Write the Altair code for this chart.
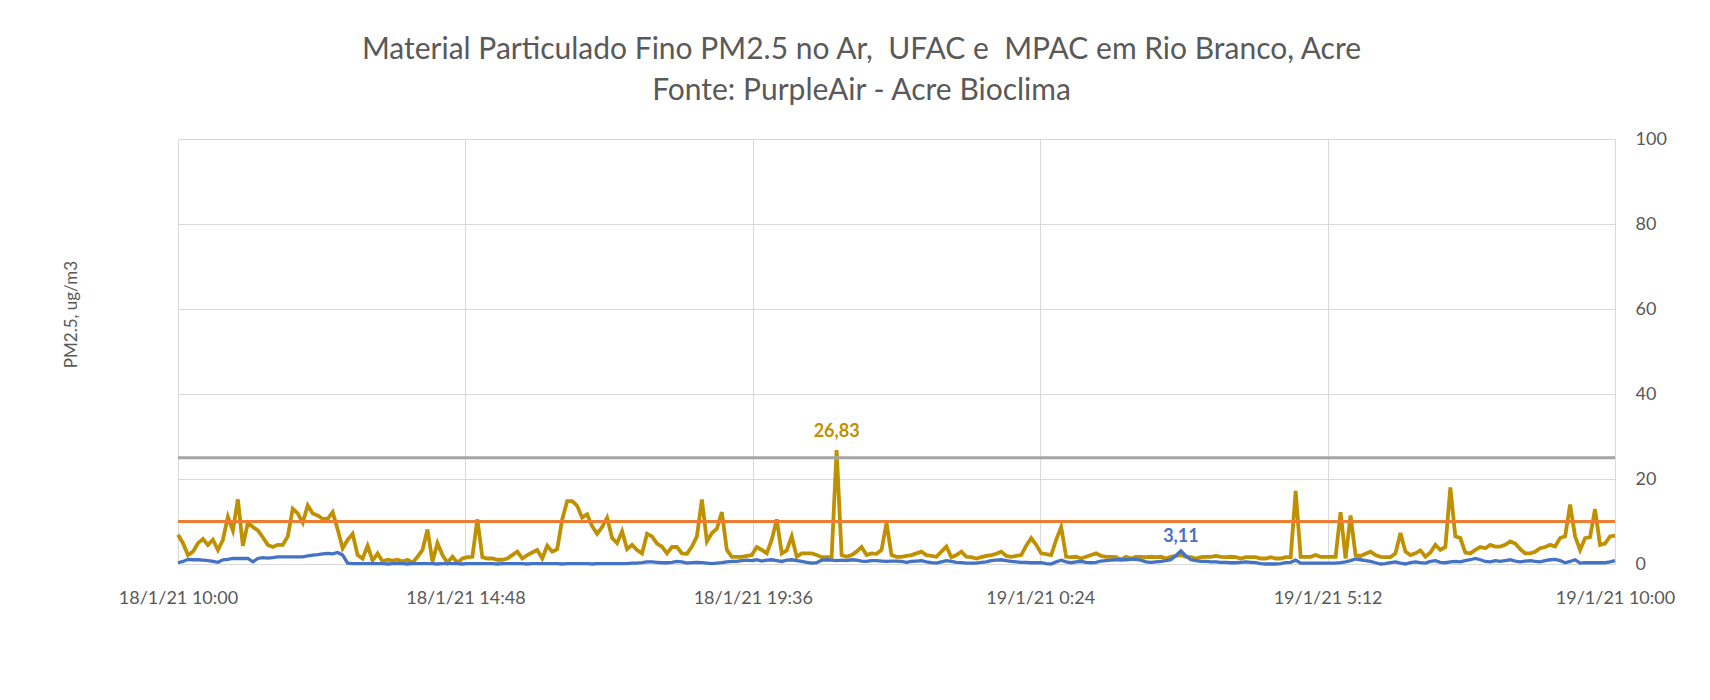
import altair as alt
import pandas as pd

# ---------------- data ----------------
titulo = ["Material Particulado Fino PM2.5 no Ar,\u00a0 UFAC e\u00a0 MPAC em Rio Branco, Acre",
          "Fonte: PurpleAir - Acre Bioclima"]
eixo_y_titulo = "PM2.5, ug/m3"
inicio = "2021-01-18 10:00"
passo = "5min"

# MPAC (gold) PM2.5, ug/m3, one value every 5 minutes
mpac = [
    6.9, 4.9, 2.1, 2.9, 4.9, 5.9, 4.5, 5.7, 3.3, 5.7,
    11.1, 7.9, 15.2, 4.3, 9.7, 8.7, 7.9, 6.3, 4.5, 4.0,
    4.5, 4.5, 6.5, 13.0, 11.9, 9.7, 13.8, 11.9, 11.4, 10.6,
    10.6, 12.2, 8.1, 3.7, 5.7, 7.1, 2.1, 1.3, 4.3, 0.8,
    2.5, 0.6, 1.0, 0.8, 1.0, 0.6, 1.0, 0.3, 1.7,
    3.3, 8.1, 0.6, 4.9, 2.1, 0.3, 1.7, 0.3, 1.3, 1.6,
    1.7, 10.5, 1.6, 1.3, 1.3, 1.0, 1.0, 1.3, 2.1, 2.9,
    1.3, 2.1, 2.7, 3.3, 1.3, 4.3, 2.9, 3.5, 10.5, 14.8,
    14.8, 13.7, 10.9, 11.7, 8.9, 7.1, 8.7, 10.9, 6.1, 4.9,
    7.7, 3.5, 4.5, 3.3, 2.5, 7.1, 6.5, 4.8,
    4.1, 2.5, 4.0, 4.0, 2.5, 2.4, 4.1, 6.5, 15.2, 5.3,
    7.3, 8.3, 12.2, 3.3, 1.7, 1.7, 1.7, 1.9, 2.1, 4.0,
    3.3, 2.5, 5.7, 10.5, 2.5, 3.2, 6.5, 1.7, 2.5, 2.5,
    2.5, 2.1, 1.6, 1.6, 1.7, 26.83, 2.1, 1.7, 2.1, 2.9,
    4.0, 2.1, 2.5, 2.4, 3.3, 9.7, 2.1, 1.7,
    1.7, 1.9, 2.1, 2.5, 2.9, 2.1, 1.9, 1.7, 2.9, 4.1,
    1.6, 2.1, 2.9, 1.7, 1.6, 1.3, 1.6, 1.9, 2.1, 2.4,
    2.9, 1.9, 1.7, 1.9, 2.1, 4.3, 6.1, 4.5, 2.5, 2.3,
    2.1, 5.7, 8.7, 1.7, 1.6, 1.7, 1.3, 1.7, 2.1, 2.5,
    1.9, 1.7, 1.7, 1.6, 1.0, 1.7, 1.3, 1.7,
    1.7, 1.6, 1.7, 1.6, 1.7, 1.3, 1.7, 1.9, 2.1, 1.7,
    1.6, 1.3, 1.6, 1.7, 1.7, 1.9, 1.7, 1.6, 1.7, 1.6,
    1.3, 1.6, 1.6, 1.6, 1.3, 1.3, 1.6, 1.3, 1.3, 1.6,
    1.6, 17.2, 1.7, 1.7, 1.7, 2.1, 1.7, 1.7, 1.7, 1.7,
    12.2, 1.3, 11.4, 2.1, 1.9, 2.4, 2.9, 2.1,
    1.7, 1.6, 1.6, 2.5, 7.3, 2.9, 2.1, 2.5, 3.2, 1.7,
    2.7, 4.5, 3.3, 4.0, 18.0, 6.5, 6.1, 2.7, 2.5, 3.3,
    4.0, 3.7, 4.5, 4.1, 4.1, 4.5, 5.3, 4.8, 3.5, 2.5,
    2.5, 2.9, 3.7, 4.0, 4.5, 4.1, 6.1, 6.5, 14.0, 6.5,
    3.3, 6.1, 6.3, 12.9, 4.5, 4.8, 6.5, 6.7,
]

# UFAC (blue) PM2.5, ug/m3
ufac = [
    0.3, 0.6, 1.1, 1.0, 1.0, 0.9, 0.8, 0.6, 0.4, 1.0,
    1.1, 1.3, 1.3, 1.3, 1.3, 0.5, 1.3, 1.5, 1.4, 1.5,
    1.7, 1.7, 1.7, 1.7, 1.7, 1.7, 1.9, 2.1, 2.2, 2.4,
    2.5, 2.4, 2.7, 2.1, 0.2, 0.1, 0.1, 0.1, 0.1, 0.1,
    0.1, 0.1, 0.0, 0.1, 0.1, 0.1, 0.0, 0.1, 0.1,
    0.1, 0.1, 0.1, 0.0, 0.1, 0.1, 0.1, 0.1, 0.0, 0.1,
    0.1, 0.1, 0.1, 0.1, 0.1, 0.0, 0.1, 0.1, 0.1, 0.1,
    0.1, 0.0, 0.1, 0.1, 0.1, 0.1, 0.1, 0.1, 0.0, 0.1,
    0.1, 0.1, 0.1, 0.1, 0.0, 0.1, 0.1, 0.1, 0.1, 0.1,
    0.1, 0.1, 0.2, 0.2, 0.3, 0.5, 0.5, 0.4,
    0.3, 0.3, 0.4, 0.6, 0.5, 0.2, 0.3, 0.4, 0.3, 0.2,
    0.1, 0.2, 0.3, 0.5, 0.6, 0.6, 0.8, 0.9, 0.8, 1.0,
    0.7, 0.9, 1.0, 0.8, 0.6, 0.9, 1.0, 0.8, 0.6, 0.4,
    0.2, 0.3, 0.9, 1.0, 0.9, 0.8, 0.9, 0.8, 1.0, 0.9,
    0.7, 0.6, 0.8, 0.8, 0.7, 0.6, 0.7, 0.7,
    0.6, 0.4, 0.6, 0.7, 0.8, 0.5, 0.3, 0.2, 0.5, 0.8,
    0.6, 0.4, 0.3, 0.2, 0.2, 0.2, 0.4, 0.5, 0.8, 0.9,
    1.0, 0.8, 0.6, 0.5, 0.4, 0.4, 0.3, 0.3, 0.3, 0.1,
    0.0, 0.5, 0.9, 0.5, 0.3, 0.5, 0.6, 0.4, 0.3, 0.4,
    0.7, 0.8, 0.9, 1.0, 1.0, 1.0, 1.1, 1.1,
    0.9, 0.5, 0.4, 0.5, 0.6, 0.8, 1.0, 2.0, 3.11, 1.9,
    1.0, 0.8, 0.6, 0.6, 0.5, 0.5, 0.4, 0.4, 0.3, 0.3,
    0.4, 0.5, 0.4, 0.3, 0.1, 0.0, 0.0, 0.0, 0.1, 0.3,
    0.4, 0.9, 0.2, 0.2, 0.2, 0.2, 0.2, 0.2, 0.2, 0.2,
    0.3, 0.5, 0.8, 1.2, 1.0, 0.8, 0.6, 0.3,
    0.0, 0.1, 0.3, 0.5, 0.2, 0.0, 0.3, 0.5, 0.3, 0.2,
    0.6, 0.8, 0.4, 0.3, 0.5, 0.6, 0.5, 0.8, 1.0, 1.3,
    1.0, 0.6, 0.5, 0.8, 0.6, 0.8, 1.0, 0.7, 0.5, 0.7,
    0.8, 0.6, 0.5, 0.8, 1.0, 1.1, 0.8, 0.3, 0.6, 1.0,
    0.2, 0.3, 0.3, 0.3, 0.3, 0.3, 0.5, 0.8,
]

limite_cinza = [25]
limite_laranja = [10]
x_ticks = ["2021-01-18 10:00", "2021-01-18 14:48", "2021-01-18 19:36",
           "2021-01-19 00:24", "2021-01-19 05:12", "2021-01-19 10:00"]
y_ticks = [0, 20, 40, 60, 80, 100]

# ---------------- tables ----------------
tempos = pd.date_range(inicio, periods=len(mpac), freq=passo)
t_str = tempos.strftime("%Y-%m-%dT%H:%M:%S")
df_mpac = pd.DataFrame({"t": t_str, "valor": mpac})
df_ufac = pd.DataFrame({"t": t_str, "valor": ufac})

def rotulo_max(df):
    i = int(df["valor"].idxmax())
    v = df["valor"].iloc[i]
    return pd.DataFrame({"t": [df["t"].iloc[i]], "valor": [v],
                         "rotulo": [f"{v:.2f}".replace(".", ",")]})

lab_mpac = rotulo_max(df_mpac)
lab_ufac = rotulo_max(df_ufac)

def dt(s):
    ts = pd.Timestamp(s)
    return alt.DateTime(year=ts.year, month=ts.month, date=ts.day,
                        hours=ts.hour, minutes=ts.minute)

CINZA_TXT = "#595959"
GRADE = "#d9d9d9"
FONTE = "Lato"

x_enc = alt.X("t:T",
              scale=alt.Scale(domain=[dt(x_ticks[0]), dt(x_ticks[-1])]),
              axis=alt.Axis(values=[dt(s) for s in x_ticks], format="%-d/%-m/%y %-H:%M",
                            title=None, grid=True, gridColor=GRADE, domain=False,
                            ticks=False, labelPadding=25, labelFontSize=18,
                            labelColor=CINZA_TXT, labelFont=FONTE,
                            labelFlush=False, labelOverlap=False))
y_enc = alt.Y("valor:Q",
              scale=alt.Scale(domain=[0, 100]),
              axis=alt.Axis(orient="right", values=y_ticks, grid=True, gridColor=GRADE,
                            domain=False, ticks=False, labelPadding=20,
                            labelFontSize=18, labelColor=CINZA_TXT, labelFont=FONTE,
                            title=eixo_y_titulo, titleAngle=270, titleX=-1544, titleY=175,
                            titleAlign="center", titleBaseline="middle",
                            titleFontSize=17, titleFontWeight="normal",
                            titleColor=CINZA_TXT, titleFont=FONTE))

linha_mpac = alt.Chart(df_mpac).mark_line(color="#bf9000", strokeWidth=3.8).encode(x=x_enc, y=y_enc)
linha_ufac = alt.Chart(df_ufac).mark_line(color="#4472c4", strokeWidth=3.3).encode(x=x_enc, y=y_enc)
regra_laranja = alt.Chart(pd.DataFrame({"valor": limite_laranja})).mark_rule(
    color="#ed7d31", strokeWidth=3.2).encode(y=y_enc)
regra_cinza = alt.Chart(pd.DataFrame({"valor": limite_cinza})).mark_rule(
    color="#a5a5a5", strokeWidth=3.2).encode(y=y_enc)
txt_mpac = alt.Chart(lab_mpac).mark_text(
    color="#bf9000", fontSize=18, font=FONTE, fontWeight="bold", dy=-18
).encode(x=x_enc, y=y_enc, text="rotulo:N")
txt_ufac = alt.Chart(lab_ufac).mark_text(
    color="#4472c4", fontSize=18, font=FONTE, fontWeight="bold", dy=-14
).encode(x=x_enc, y=y_enc, text="rotulo:N")

chart = alt.layer(
    linha_mpac, linha_ufac, regra_laranja, regra_cinza, txt_mpac, txt_ufac
).properties(
    width=1437, height=425,
    autosize=alt.AutoSizeParams(type="none"),
    padding={"left": 170, "top": 131, "right": 87, "bottom": 128},
    title=alt.TitleParams(text=titulo, anchor="middle", frame="group", dx=-35,
                          offset=24, fontSize=30, lineHeight=41, font=FONTE,
                          fontWeight="normal", color=CINZA_TXT),
    background="white",
).configure_view(stroke=None)

chart.save("out.html", embed_options={"renderer": "svg", "actions": False})
